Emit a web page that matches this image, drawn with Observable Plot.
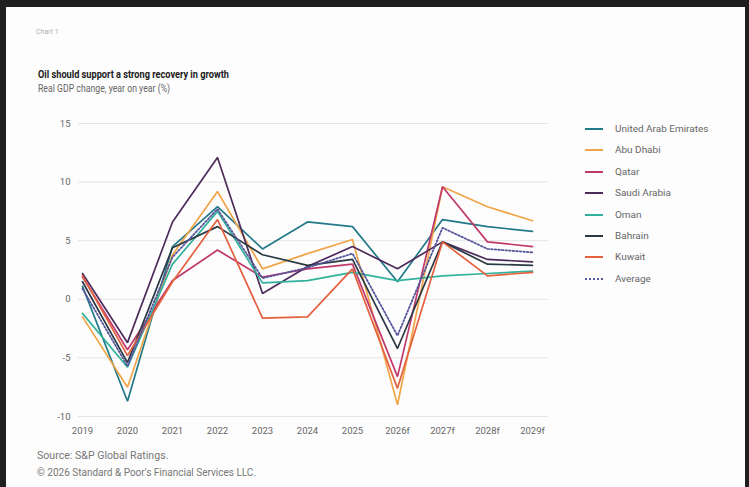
<!DOCTYPE html>
<html><head><meta charset="utf-8">
<script src="https://cdn.jsdelivr.net/npm/d3@7"></script>
<script src="https://cdn.jsdelivr.net/npm/@observablehq/plot@0.6"></script>
<style>
html,body{margin:0;padding:0;background:#fff;}
#page{position:relative;width:749px;height:487px;overflow:hidden;background:#fdfdfd;font-family:"Roboto","Liberation Sans",sans-serif;}
#frame{position:absolute;left:0;top:0;width:749px;height:487px;box-sizing:border-box;border-top:7px solid #1f1f1f;border-left:6px solid #1f1f1f;border-right:4px solid #1f1f1f;pointer-events:none;z-index:5;}
#chartnum{position:absolute;left:36px;top:28px;font-size:7px;color:#b0b0b0;}
#title{position:absolute;left:38px;top:67px;font-size:11.5px;font-weight:bold;color:#1a1a1a;white-space:nowrap;transform:scaleX(0.8);transform-origin:0 0;}
#subtitle{position:absolute;left:38px;top:82px;font-size:10.5px;color:#666;white-space:nowrap;transform:scaleX(0.83);transform-origin:0 0;}
#plot{position:absolute;left:0;top:0;}
#legend{position:absolute;left:585px;top:123px;}
.li{position:absolute;left:0;height:12px;white-space:nowrap;font-size:9.5px;color:#666;}
.li .sw{position:absolute;left:0;top:5px;width:18px;height:0;border-top:2px solid;}
.li .lb{position:absolute;left:30px;top:0;line-height:12px;transform:scaleX(1.05);transform-origin:0 0;}
#source{position:absolute;left:37px;top:450px;font-size:10px;color:#777;white-space:nowrap;transform:scaleX(1.06);transform-origin:0 0;}
#copy{position:absolute;left:37px;top:467px;font-size:10px;color:#777;white-space:nowrap;transform:scaleX(1.0);transform-origin:0 0;}
</style></head>
<body>
<div id="page">
  <div id="chartnum">Chart 1</div>
  <div id="title">Oil should support a strong recovery in growth</div>
  <div id="subtitle">Real GDP change, year on year (%)</div>
  <div id="plot"></div>
  <div id="legend"></div>
  <div id="source">Source: S&amp;P Global Ratings.</div>
  <div id="copy">© 2026 Standard &amp; Poor's Financial Services LLC.</div>
  <div id="frame"></div>
</div>
<script>
const years = ["2019","2020","2021","2022","2023","2024","2025","2026f","2027f","2028f","2029f"];
const yTicks = [-10,-5,0,5,10,15];
const uae      = [1.1,-8.7,4.5,7.9,4.3,6.6,6.2,1.5,6.8,6.2,5.8];
const abuDhabi = [-1.5,-7.5,3.8,9.2,2.6,3.9,5.1,-9.0,9.6,7.9,6.7];
const qatar    = [1.9,-4.3,1.6,4.2,1.9,2.6,3.0,-6.6,9.6,4.9,4.5];
const saudi    = [2.2,-3.7,6.6,12.1,0.5,2.8,4.5,2.6,4.9,3.4,3.2];
const oman     = [-1.2,-5.8,3.0,7.5,1.4,1.6,2.3,1.6,2.0,2.2,2.4];
const bahrain  = [1.5,-5.4,4.4,6.2,3.8,2.9,3.4,-4.2,4.9,3.0,2.9];
const kuwait   = [2.0,-4.8,1.5,6.8,-1.6,-1.5,2.6,-7.6,4.9,2.0,2.3];
const average  = [0.9,-5.7,3.6,7.7,1.8,2.7,3.9,-3.1,6.1,4.3,4.0];

const names  = ["United Arab Emirates","Abu Dhabi","Qatar","Saudi Arabia","Oman","Bahrain","Kuwait","Average"];
const colors = ["#22798a","#f0a548","#c0396c","#4d2c5c","#32b29c","#2a3944","#e4603e","#55559a"];
const series = [uae,abuDhabi,qatar,saudi,oman,bahrain,kuwait,average];

const rows = [];
names.forEach((n,i)=>{ if(n!=="Average") series[i].forEach((v,j)=>rows.push({name:n,year:years[j],value:v})); });
const avgRows = average.map((v,j)=>({name:"Average",year:years[j],value:v}));

const chart = Plot.plot({
  width: 749,
  height: 487,
  marginTop: 123,
  marginBottom: 71,
  marginLeft: 78,
  marginRight: 201,
  style: {background:"transparent", fontFamily:"'Roboto','Liberation Sans',sans-serif", fontSize:"9.5px", color:"#666"},
  x: {type:"point", domain: years, range:[78,536], padding:0, label:null, tickSize:0, tickPadding:11},
  y: {domain:[-10,15], ticks: yTicks, label:null, tickSize:0, tickPadding:8, tickFormat: d => String(d)},
  color: {domain: names, range: colors},
  marks: [
    Plot.ruleY(yTicks, {stroke:"#e4e4e4", strokeWidth:1}),
    Plot.line(rows, {x:"year", y:"value", z:"name", stroke:"name", strokeWidth:1.7, strokeLinejoin:"miter"}),
    Plot.line(avgRows, {x:"year", y:"value", stroke:"name", strokeWidth:1.8, strokeDasharray:"1.6,2"})
  ]
});
document.getElementById("plot").appendChild(chart);

const lg = document.getElementById("legend");
names.forEach((n,i)=>{
  const d = document.createElement("div");
  d.className = "li";
  d.style.top = (i*21.4) + "px";
  const sw = document.createElement("div");
  sw.className = "sw";
  sw.style.borderTopColor = colors[i];
  if (n==="Average") sw.style.borderTopStyle = "dotted";
  const lb = document.createElement("div");
  lb.className = "lb";
  lb.textContent = n;
  d.appendChild(sw); d.appendChild(lb);
  lg.appendChild(d);
});
</script>
</body></html>
